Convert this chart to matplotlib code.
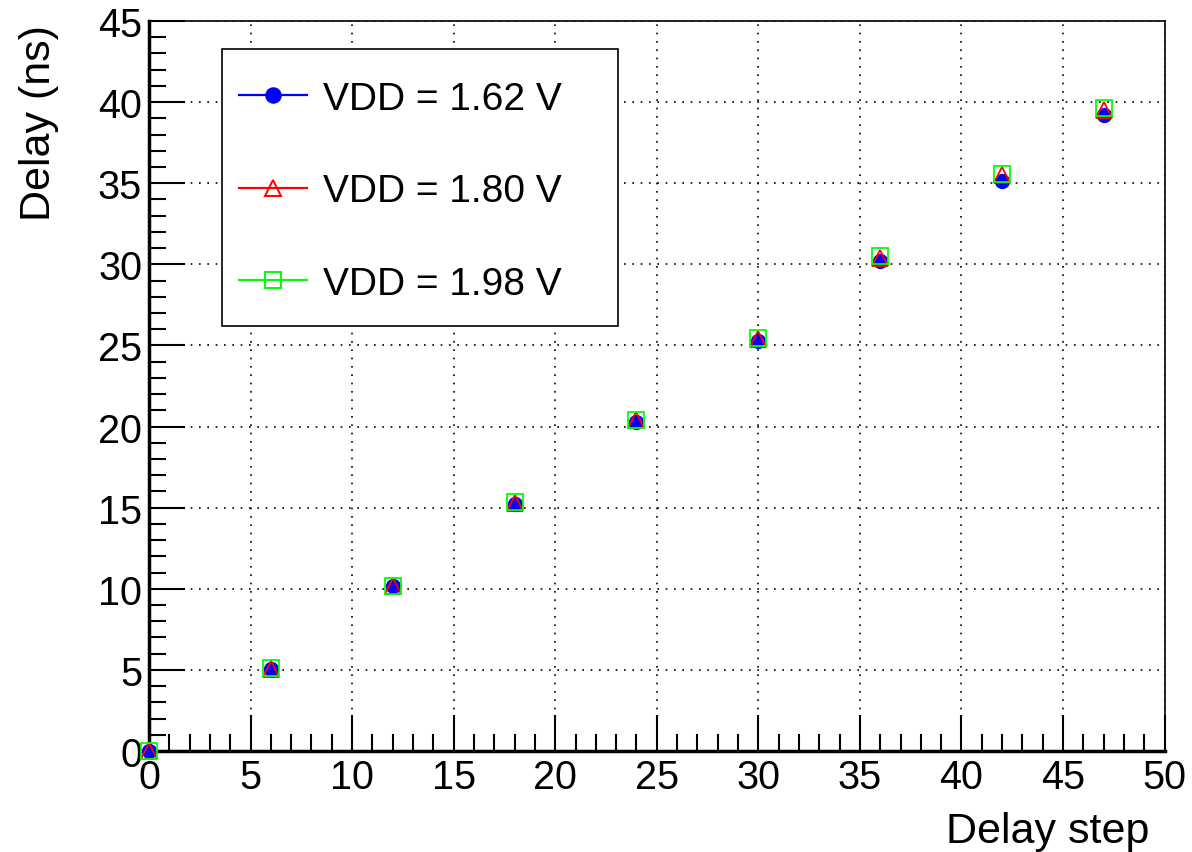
import matplotlib
matplotlib.use("Agg")
import matplotlib.pyplot as plt
from matplotlib.ticker import MultipleLocator
from matplotlib.patches import Rectangle

plt.rcParams['font.family'] = ['Liberation Sans', 'DejaVu Sans']

steps = [0, 6, 12, 18, 24, 30, 36, 42, 47]
delay_162 = [0.0, 5.05, 10.15, 15.25, 20.3, 25.25, 30.2, 35.15, 39.2]
delay_180 = [0.0, 5.08, 10.18, 15.3, 20.38, 25.38, 30.4, 35.5, 39.5]
delay_198 = [0.0, 5.1, 10.2, 15.35, 20.42, 25.45, 30.52, 35.58, 39.65]
labels = ["VDD = 1.62 V", "VDD = 1.80 V", "VDD = 1.98 V"]

fig = plt.figure(figsize=(11.92, 8.53), dpi=100)
ax = fig.add_axes([0.125, 0.1184, 0.852, 0.8558])

ax.plot(steps, delay_162, color='blue', marker='o', markersize=10, linestyle='none',
        markeredgewidth=1, label=labels[0], clip_on=False, zorder=4)
ax.plot(steps, delay_180, color='red', marker='^', markersize=11, linestyle='none',
        markerfacecolor='none', markeredgewidth=1.3, label=labels[1], clip_on=False, zorder=4)
ax.plot(steps, delay_198, color='#00ff00', marker='s', markersize=12, linestyle='none',
        markerfacecolor='none', markeredgewidth=1.3, label=labels[2], clip_on=False, zorder=4)

ax.set_xlim(0, 50)
ax.set_ylim(0, 45)
ax.xaxis.set_major_locator(MultipleLocator(5))
ax.xaxis.set_minor_locator(MultipleLocator(1))
ax.yaxis.set_major_locator(MultipleLocator(5))
ax.yaxis.set_minor_locator(MultipleLocator(1))
ax.tick_params(which='both', direction='in', top=False, right=False, labelsize=28.5, width=1.5)
ax.tick_params(which='major', length=26, pad=5)
ax.tick_params(which='minor', length=12)
ax.grid(True, which='major', color='black', linestyle=(0, (1, 4)), linewidth=1.2)
for s in ax.spines.values():
    s.set_linewidth(1.2)
ax.spines['left'].set_linewidth(2.5)
ax.spines['bottom'].set_linewidth(2.5)

ax.set_xlabel("Delay step", fontsize=31, loc='right')
ax.xaxis.set_label_coords(0.985, -0.082, transform=ax.transAxes)
ax.xaxis.label.set_horizontalalignment('right')
ax.set_ylabel("Delay (ns)", fontsize=31, loc='top')
ax.yaxis.set_label_coords(-0.089, 0.996)

# legend frame
ax.add_patch(Rectangle((0.0718, 0.582), 0.3898, 0.3796, transform=ax.transAxes,
                       facecolor='white', edgecolor='black', linewidth=1.2, zorder=5))

leg_handles = []
for col, mk, fc, ms in [('blue', 'o', 'blue', 10.5), ('red', '^', 'none', 11), ('#00ff00', 's', 'none', 12)]:
    h, = ax.plot([], [], color=col, marker=mk, markerfacecolor=fc, markersize=ms,
                 linestyle='-', linewidth=1.6, markeredgewidth=1.4)
    leg_handles.append(h)
leg = ax.legend(leg_handles, labels, loc='upper left', bbox_to_anchor=(0.0886, 0.918),
                fontsize=28, frameon=False, handlelength=1.75, handletextpad=0.4,
                labelspacing=1.45, borderpad=0, borderaxespad=0, numpoints=1)
leg.set_zorder(6)

fig.savefig("out.png", dpi=100)
